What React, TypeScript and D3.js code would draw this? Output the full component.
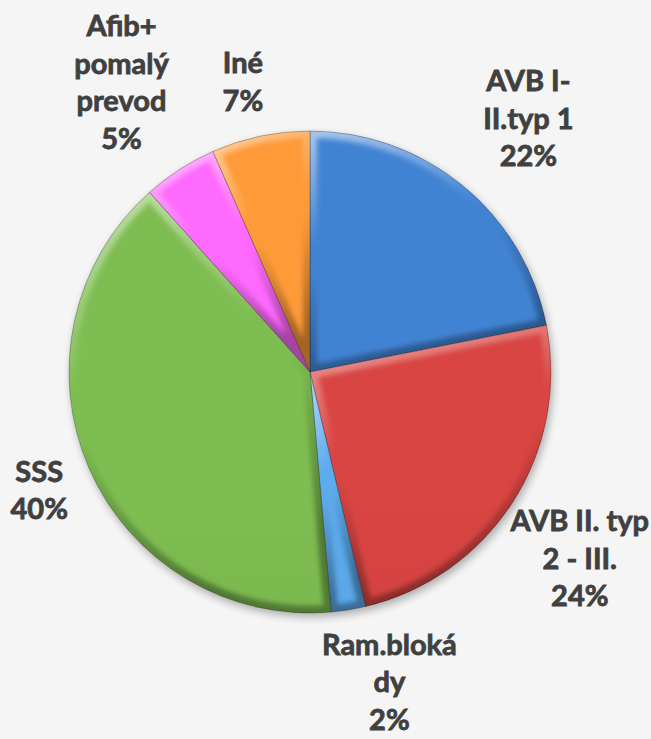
import React from "react";
import * as d3 from "d3";

const categories = [
  "AVB I-II.typ 1",
  "AVB II. typ 2 - III.",
  "Ram.blokády",
  "SSS",
  "Afib+ pomalý prevod",
  "Iné",
];
const labelLines = [
  ["AVB I-", "II.typ 1"],
  ["AVB II. typ", "2 - III."],
  ["Ram.bloká", "dy"],
  ["SSS"],
  ["Afib+", "pomalý", "prevod"],
  ["Iné"],
];
const values = [21.9, 24.4, 2.3, 39.8, 5.0, 6.6];
const colors = ["#3f7fcd", "#d24340", "#5aa6e6", "#7ab84f", "#f766f7", "#f79636"];

const W = 651;
const H = 739;
const CX = 310;
const CY = 372;
const R = 241;
const FONT_SIZE = 29;
const LINE_H = 37.5;
const FONT = `bold ${FONT_SIZE}px Lato, "Open Sans", sans-serif`;
const GAP = 15;

// small placement nudges mimicking the spreadsheet's label layout
const nudgeX = [10, 0, 28, 2, -2, -6];
const nudgeY = [0, 0, 7, 0, 0, 0];

function measure(text: string): number {
  if (typeof document === "undefined") return text.length * FONT_SIZE * 0.55;
  const c = document.createElement("canvas");
  const ctx = c.getContext("2d");
  if (!ctx) return text.length * FONT_SIZE * 0.55;
  ctx.font = FONT;
  return ctx.measureText(text).width;
}

export default function App() {
  const total = d3.sum(values);
  const pie = d3
    .pie<number>()
    .sort(null)
    .value((d) => d)
    .startAngle(0)
    .endAngle(2 * Math.PI);
  const arcs = pie(values);
  const arc = d3.arc<d3.PieArcDatum<number>>().innerRadius(0).outerRadius(R);

  const labels = arcs.map((a, i) => {
    const lines = [...labelLines[i], `${Math.round((values[i] / total) * 100)}%`];
    const mid = (a.startAngle + a.endAngle) / 2;
    const s = Math.sin(mid);
    const c = -Math.cos(mid);
    const hw = (d3.max(lines, (l) => measure(l)) as number) / 2;
    const hh = (lines.length * LINE_H) / 2;
    const D = R + GAP + Math.abs(s) * hw + Math.abs(c) * hh;
    let x = CX + D * s + nudgeX[i];
    let y = CY + D * c + nudgeY[i];
    x = Math.max(hw + 3, Math.min(W - hw - 2, x));
    y = Math.max(hh + 2, Math.min(H - hh - 1, y));
    return { lines, x, y, hh };
  });

  const lighten = (col: string, k: number) => d3.color(col)!.brighter(k).formatHex();
  const darken = (col: string, k: number) => d3.color(col)!.darker(k).formatHex();

  return (
    <div style={{ position: "absolute", left: 0, top: 0 }}>
      <svg width={W} height={H} style={{ display: "block" }}>
        <defs>
          <filter id="shadowBlur" x="-20%" y="-20%" width="140%" height="140%">
            <feGaussianBlur stdDeviation="4" />
          </filter>
          <filter id="bevelBlur" x="-10%" y="-10%" width="120%" height="120%">
            <feGaussianBlur stdDeviation="2.5" />
          </filter>
          {arcs.map((a, i) => (
            <React.Fragment key={i}>
              <linearGradient
                id={`fill-${i}`}
                gradientUnits="userSpaceOnUse"
                x1={CX}
                y1={CY - R}
                x2={CX}
                y2={CY + R}
              >
                <stop offset="0" stopColor={lighten(colors[i], 0.08)} />
                <stop offset="1" stopColor={darken(colors[i], 0.25)} />
              </linearGradient>
              <linearGradient id={`bevel-${i}`} x1="0" y1="0" x2="0.25" y2="1">
                <stop offset="0" stopColor="#ffffff" stopOpacity="0.55" />
                <stop offset="0.45" stopColor="#ffffff" stopOpacity="0" />
                <stop offset="0.55" stopColor="#000000" stopOpacity="0" />
                <stop offset="1" stopColor="#000000" stopOpacity="0.35" />
              </linearGradient>
              <clipPath id={`clip-${i}`}>
                <path d={arc(a) as string} transform={`translate(${CX},${CY})`} />
              </clipPath>
            </React.Fragment>
          ))}
        </defs>
        <rect x={0} y={0} width={W} height={H} fill="#f5f5f5" />
        <circle cx={CX + 2} cy={CY + 4} r={R} fill="#000" opacity={0.3} filter="url(#shadowBlur)" />
        {arcs.map((a, i) => (
          <g key={categories[i]}>
            <path
              d={arc(a) as string}
              transform={`translate(${CX},${CY})`}
              fill={`url(#fill-${i})`}
            />
            <g clipPath={`url(#clip-${i})`}>
              <path
                d={arc(a) as string}
                transform={`translate(${CX},${CY})`}
                fill="none"
                stroke={`url(#bevel-${i})`}
                strokeWidth={14}
                strokeLinejoin="round"
                filter="url(#bevelBlur)"
              />
            </g>
            <path
              d={arc(a) as string}
              transform={`translate(${CX},${CY})`}
              fill="none"
              stroke="#000"
              strokeOpacity={0.25}
              strokeWidth={1}
            />
          </g>
        ))}
        {labels.map((l, i) => (
          <text
            key={i}
            textAnchor="middle"
            fill="#404040"
            stroke="#404040"
            strokeWidth={0.8}
            style={{ font: FONT }}
          >
            {l.lines.map((line, j) => (
              <tspan key={j} x={l.x} y={l.y - l.hh + LINE_H * (j + 0.5)} dy="0.36em">
                {line}
              </tspan>
            ))}
          </text>
        ))}
      </svg>
    </div>
  );
}
